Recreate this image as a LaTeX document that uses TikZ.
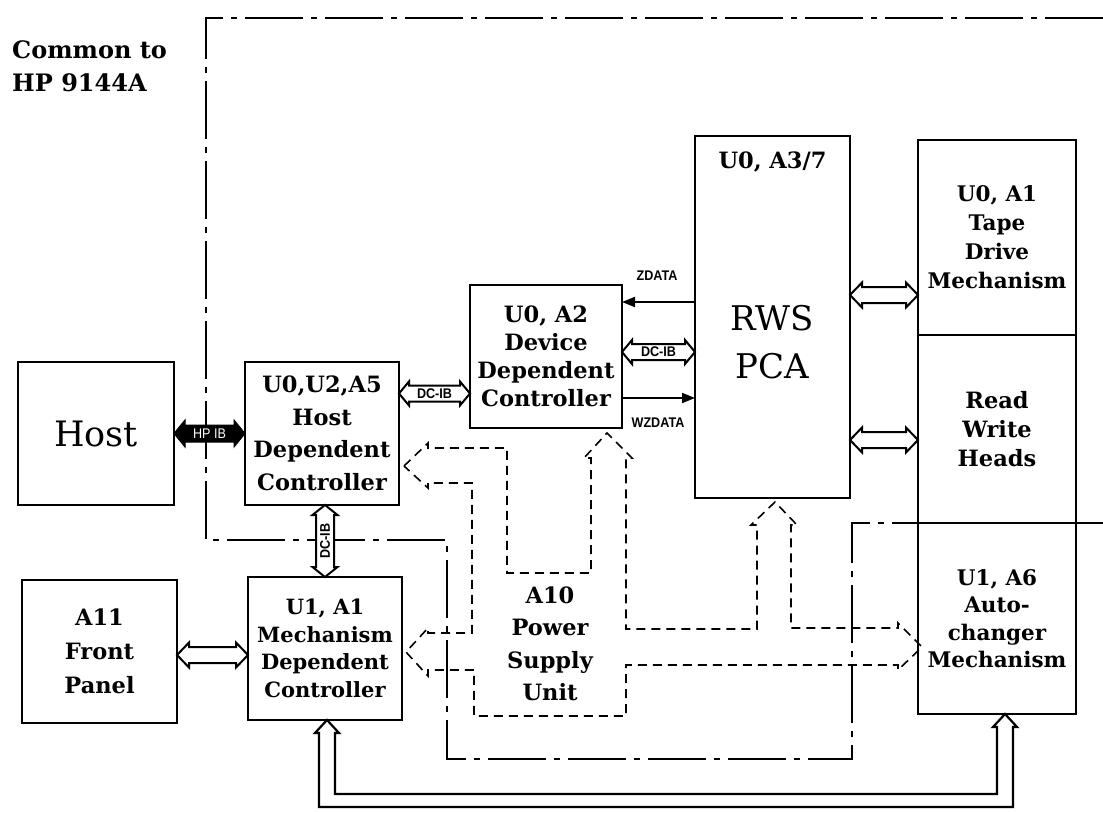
\documentclass[tikz,border=0pt]{standalone}
\usepackage{fontspec}
\setmainfont{DejaVu Serif}
\newfontfamily\labfont{Liberation Sans}[FakeStretch=0.9]
\usetikzlibrary{arrows.meta,calc}

% horizontal hollow double arrow: #1 style, #2 start (left), #3 end (right, x only), #4 shaft half, #5 head half, #6 head length
\newcommand\dblH[6]{\path[#1] let \p1=#2, \p2=#3 in (\x1,\y1) -- (\x1+#6,\y1+#5) -- (\x1+#6,\y1+#4) -- (\x2-#6,\y1+#4) -- (\x2-#6,\y1+#5) -- (\x2,\y1) -- (\x2-#6,\y1-#5) -- (\x2-#6,\y1-#4) -- (\x1+#6,\y1-#4) -- (\x1+#6,\y1-#5) -- cycle;}
% vertical hollow double arrow: #2 start (top), #3 end (bottom, y only)
\newcommand\dblV[6]{\path[#1] let \p1=#2, \p2=#3 in (\x1,\y1) -- (\x1+#5,\y1-#6) -- (\x1+#4,\y1-#6) -- (\x1+#4,\y2+#6) -- (\x1+#5,\y2+#6) -- (\x1,\y2) -- (\x1-#5,\y2+#6) -- (\x1-#4,\y2+#6) -- (\x1-#4,\y1-#6) -- (\x1-#5,\y1-#6) -- cycle;}

\tikzset{
  box/.style={draw, line width=2.6pt, fill=white, inner sep=0pt, outer sep=0pt, align=center, font=\bfseries\fontsize{22.5}{29}\selectfont},
  bound/.style={line width=2pt, dash pattern=on 58pt off 8pt on 6pt off 8pt},
  psu/.style={line width=1.6pt, dash pattern=on 9pt off 6pt, line join=miter},
  hol/.style={draw, line width=2pt, fill=white, line join=miter},
  sig/.style={line width=2pt, -{Triangle[length=13pt,width=10pt]}},
  lab/.style={font=\labfont\bfseries\fontsize{14}{14}\selectfont, inner sep=0pt},
  fb/.style={line width=2.2pt, line join=miter},
  big/.style={font=\mdseries\fontsize{34}{48}\selectfont, align=center, inner sep=0pt},
  txt/.style={font=\bfseries\fontsize{22.5}{32.5}\selectfont, align=center, inner sep=0pt},
}

\begin{document}
\begin{tikzpicture}[x=1pt, y=-1pt]
\useasboundingbox (0,0) rectangle (1103,813);

% boundary of the part common to HP 9144A
\draw[bound] (1103,18) -- (206,18) -- (206,540) -- (447,540) -- (447,759) -- (852,759) -- (852,523) -- (1103,523);

\node[align=left, anchor=north west, inner sep=0pt, font=\bfseries\fontsize{24}{33}\selectfont] (common) at (12,40) {Common to\\HP 9144A};

% boxes
\node[box, minimum width=156pt, minimum height=143pt] (host) at (96,433.5) {{\mdseries\fontsize{35}{40}\selectfont Host}};
\node[box, minimum width=154pt, minimum height=143pt, font=\bfseries\fontsize{22.5}{32.5}\selectfont] (hdc) at (322,433.5) {U0,U2,A5\\Host\\Dependent\\Controller};
\node[box, minimum width=152pt, minimum height=143pt, font=\bfseries\fontsize{22.5}{28}\selectfont] (ddc) at (546,356.5) {U0, A2\\Device\\Dependent\\Controller};
\node[box, minimum width=155pt, minimum height=362pt] (rws) at (772.5,317) {};
\node[txt] (rwsid) at (772.5,162) {U0, A3/7};
\node[big] (rwsname) at (772.5,342) {RWS\\PCA};
\node[box, minimum width=158pt, minimum height=195pt, font=\bfseries\fontsize{21.5}{29}\selectfont] (tape) at (997,237.5) {U0, A1\\Tape\\Drive\\Mechanism};
\node[box, minimum width=158pt, minimum height=188pt] (heads) at (997,429) {Read\\Write\\Heads};
\node[box, minimum width=158pt, minimum height=191pt, font=\bfseries\fontsize{21.5}{27.5}\selectfont] (auto) at (997,618.5) {U1, A6\\Auto-\\changer\\Mechanism};
\node[box, minimum width=155pt, minimum height=143pt, font=\bfseries\fontsize{22.5}{34}\selectfont] (a11) at (99.5,651.5) {A11\\Front\\Panel};
\node[box, minimum width=154pt, minimum height=143pt, font=\bfseries\fontsize{21}{27.5}\selectfont] (mdc) at (325,648.5) {U1, A1\\Mechanism\\Dependent\\Controller};

% power supply distribution
\node[txt] (psu) at (550,644) {A10\\Power\\Supply\\Unit};
\coordinate (t1) at ($(hdc.east)+(5,32.5)$);
\coordinate (t2) at ($(ddc.south)+(61,5)$);
\coordinate (t3) at ($(rws.south)+(2.5,4)$);
\coordinate (t4) at ($(auto.west)+(4,28.5)$);
\coordinate (t5) at ($(mdc.east)+(4,3.5)$);
\draw[psu] (t1) -- ++(24,-23) -- ++(0,5) -- (507,448) -- (507,573) -- (591,573) -- (591,458) -- ++(-7,0) -- (t2)
  -- ++(25,25) -- ++(-6,0) -- (626,629) -- (757,629) -- (757,525) -- ++(-6,0) -- (t3)
  -- ++(22,23) -- ++(-6,0) -- (791,628) -- (898,628) -- ++(0,-5) -- (t4)
  -- ++(-24,23) -- ++(0,-5) -- (626,665) -- (626,716) -- (474,716) -- (474,670) -- (428,670) -- ++(0,6) -- (t5)
  -- ++(22,-24) -- ++(0,5) -- (472,633) -- (472,483) -- (428,483) -- ++(0,5) -- cycle;

% mechanism bus between U1,A1 and autochanger
\coordinate (m0) at ($(mdc.south)+(2,0)$);
\coordinate (a0) at ($(auto.south)+(8,0)$);
\draw[fb] (m0) -- ++(-12,13) -- ++(4,0) |- ($(a0)+(8,93)$) -- ++(0,-80) -- ++(4,0) -- (a0)
  -- ++(-12,13) -- ++(4,0) |- ($(m0)+(8,74)$) -- ++(0,-61) -- ++(4,0) -- cycle;

% HP-IB
\dblH{draw=black, fill=black, line width=1pt, line join=miter}{(host.east)}{(hdc.west)}{8.5}{13.5}{11}
\node[lab, text=white, font=\labfont\fontsize{14}{14}\selectfont] (hpib) at ($(host.east)!0.5!(hdc.west)$) {HP IB};

% DC-IB links
\coordinate (d1a) at ($(hdc.east)+(0,-40)$);
\coordinate (d1b) at (d1a -| ddc.west);
\dblH{hol}{(d1a)}{(d1b)}{8}{12}{10}
\node[lab] (dcib1) at ($(d1a)!0.5!(d1b)$) {DC-IB};

\coordinate (d2a) at ($(ddc.east)+(0,-4.5)$);
\coordinate (d2b) at (d2a -| rws.west);
\dblH{hol}{(d2a)}{(d2b)}{8}{12}{10}
\node[lab] (dcib2) at ($(d2a)!0.5!(d2b)$) {DC-IB};

\coordinate (d3a) at (hdc.south -| mdc.north);
\dblV{hol}{(d3a)}{(mdc.north)}{9}{12.5}{10}
\node[lab, rotate=90] (dcib3) at ($(d3a)!0.5!(mdc.north)$) {DC-IB};

% ZDATA / WZDATA
\coordinate (za) at ($(rws.west)+(0,-15)$);
\draw[sig] (za) -- (za -| ddc.east);
\node[lab] (zlab) at (657,276) {ZDATA};
\coordinate (wa) at ($(ddc.east)+(0,41.5)$);
\draw[sig] (wa) -- (wa -| rws.west);
\node[lab] (wlab) at (658,423) {WZDATA};

% hollow buses
\coordinate (r1) at ($(rws.east)+(0,-22)$);
\dblH{hol}{(r1)}{(tape.west)}{8}{12.5}{12}
\coordinate (r2) at ($(rws.east)+(0,123)$);
\dblH{hol}{(r2)}{(heads.west)}{8}{12.5}{12}
\coordinate (f1) at ($(a11.east)+(0,3.5)$);
\dblH{hol}{(f1)}{(mdc.west)}{8}{12.5}{12}
\end{tikzpicture}
\end{document}
